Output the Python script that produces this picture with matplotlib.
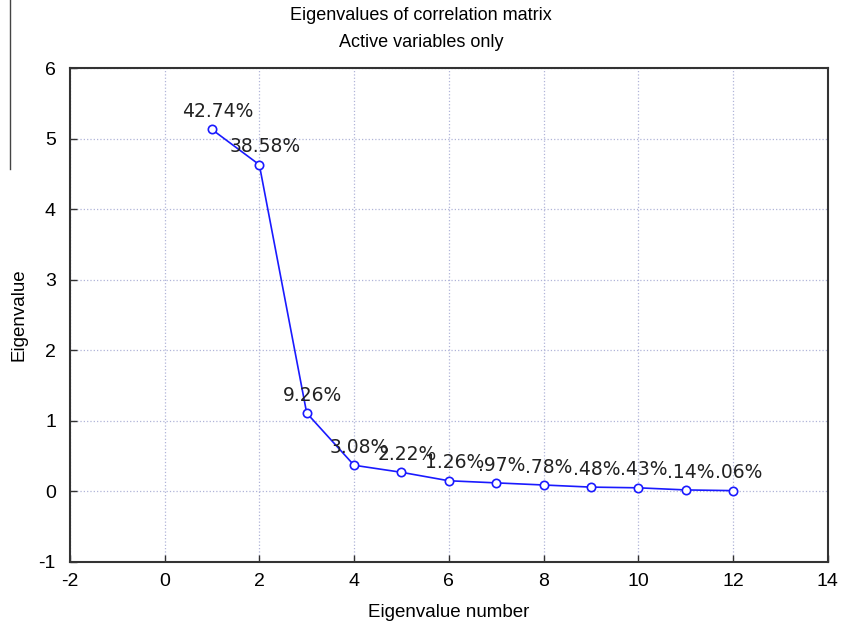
import matplotlib.pyplot as plt
from matplotlib.lines import Line2D

plt.rcParams['axes.unicode_minus'] = False

# eigenvalue numbers, eigenvalues and % of variance labels
number = [1, 2, 3, 4, 5, 6, 7, 8, 9, 10, 11, 12]
eigen = [5.13, 4.63, 1.11, 0.37, 0.27, 0.15, 0.12, 0.09, 0.06, 0.05, 0.02, 0.01]
pct = ['42.74%', '38.58%', '9.26%', '3.08%', '2.22%', '1.26%',
       '.97%', '.78%', '.48%', '.43%', '.14%', '.06%']

narrow = ['Liberation Sans', 'DejaVu Sans']

fig = plt.figure(figsize=(8.42, 6.25), dpi=100)
ax = fig.add_axes([0.083, 0.101, 0.9, 0.79])

ax.plot(number, eigen, color='#1a1aff', lw=1.2, marker='o', ms=6,
        mfc='white', mec='#1a1aff', mew=1.2, zorder=3)

# labels overlap a bit on the flat tail, same as in the original
for xv, yv, t in zip(number, eigen, pct):
    ax.annotate(t, (xv, yv), xytext=(4, 6), textcoords='offset points',
                ha='center', va='bottom', fontsize=13.5, color='#222222',
                family='DejaVu Sans', zorder=4)

ax.set_xlim(-2, 14)
ax.set_ylim(-1, 6)
ax.set_xticks(range(-2, 15, 2))
ax.set_yticks(range(-1, 7))
ax.grid(True, color='#b0b4d8', linestyle=':', lw=0.9)
ax.tick_params(direction='in', length=5, width=1, color='#333333', labelsize=14)
ax.tick_params(axis='y', pad=10)
ax.tick_params(axis='x', pad=8)
for lab in ax.get_xticklabels() + ax.get_yticklabels():
    lab.set_family(narrow)
for s in ax.spines.values():
    s.set_color('#333333')
    s.set_linewidth(1.5)

ax.set_xlabel('Eigenvalue number', fontsize=13.5, family=narrow, labelpad=10)
ax.set_ylabel('Eigenvalue', fontsize=13.5, family=narrow, labelpad=8)

fig.text(0.5, 0.975, 'Eigenvalues of correlation matrix', ha='center',
         va='center', fontsize=13, family=narrow)
fig.text(0.5, 0.932, 'Active variables only', ha='center', va='center',
         fontsize=13, family=narrow)

fig.add_artist(Line2D([0.012, 0.012], [1.0, 0.73], color='#444444', lw=1,
                      transform=fig.transFigure))

fig.savefig('out.png', dpi=100)
